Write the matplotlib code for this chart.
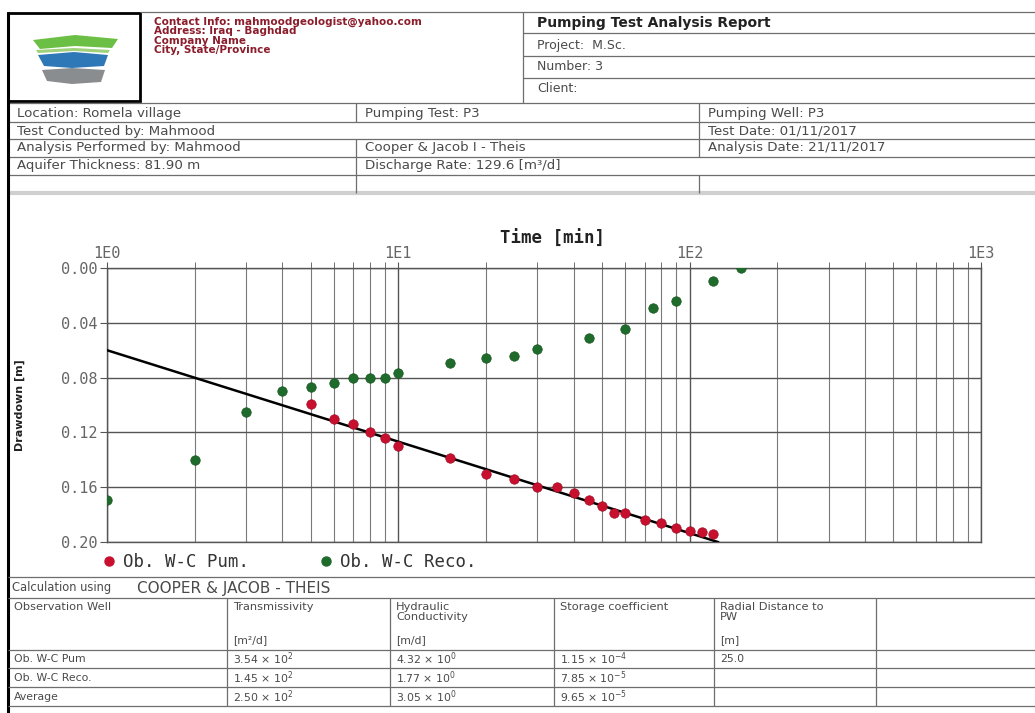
import matplotlib
matplotlib.use("Agg")
import matplotlib.pyplot as plt
from matplotlib.lines import Line2D
from matplotlib.patches import Polygon, Rectangle
from matplotlib.ticker import FixedLocator, LogLocator, NullFormatter, FixedFormatter

# ---------------- data ----------------
pum_time = [5, 6, 7, 8, 9, 10, 15, 20, 25, 30, 35, 40, 45, 50, 55, 60, 70, 80, 90, 100, 110, 120]
pum_drawdown = [0.099, 0.110, 0.114, 0.120, 0.124, 0.130, 0.139, 0.150, 0.154, 0.160, 0.160,
                0.164, 0.169, 0.174, 0.179, 0.179, 0.184, 0.186, 0.190, 0.192, 0.193, 0.194]

reco_time = [1, 2, 3, 4, 5, 6, 7, 8, 9, 10, 15, 20, 25, 30, 45, 60, 75, 90, 120, 150]
reco_drawdown = [0.169, 0.140, 0.105, 0.090, 0.087, 0.084, 0.080, 0.080, 0.080, 0.077,
                 0.069, 0.066, 0.064, 0.059, 0.051, 0.0445, 0.029, 0.024, 0.0095, 0.000]

fit_time = [1, 125]
fit_drawdown = [0.060, 0.200]

x_ticks = [1, 10, 100, 1000]
x_tick_labels = ["1E0", "1E1", "1E2", "1E3"]
y_ticks = [0.00, 0.04, 0.08, 0.12, 0.16, 0.20]
y_tick_labels = ["0.00", "0.04", "0.08", "0.12", "0.16", "0.20"]

series_labels = ["Ob. W-C Pum.", "Ob. W-C Reco."]

contact_lines = ["Contact Info: mahmoodgeologist@yahoo.com", "Address: Iraq - Baghdad",
                 "Company Name", "City, State/Province"]
report_lines = ["Project:  M.Sc.", "Number: 3", "Client:"]

info_rows = [
    ["Location: Romela village", "Pumping Test: P3", "Pumping Well: P3"],
    ["Test Conducted by: Mahmood", "", "Test Date: 01/11/2017"],
    ["Analysis Performed by: Mahmood", "Cooper & Jacob I - Theis", "Analysis Date: 21/11/2017"],
    ["Aquifer Thickness: 81.90 m", "Discharge Rate: 129.6 [m\u00b3/d]", ""],
    ["", "", ""],
]

res_headers = ["Observation Well", "Transmissivity", "Hydraulic\nConductivity",
               "Storage coefficient", "Radial Distance to\nPW", ""]
res_units = ["", "[m\u00b2/d]", "[m/d]", "", "[m]", ""]
res_rows = [
    ["Ob. W-C Pum", r"3.54 $\times$ 10$^{2}$", r"4.32 $\times$ 10$^{0}$", r"1.15 $\times$ 10$^{-4}$", "25.0", ""],
    ["Ob. W-C Reco.", r"1.45 $\times$ 10$^{2}$", r"1.77 $\times$ 10$^{0}$", r"7.85 $\times$ 10$^{-5}$", "", ""],
    ["Average", r"2.50 $\times$ 10$^{2}$", r"3.05 $\times$ 10$^{0}$", r"9.65 $\times$ 10$^{-5}$", "", ""],
]

# ---------------- page ----------------
W, H = 1035, 713
fig = plt.figure(figsize=(W / 100, H / 100), dpi=100)
fig.patch.set_facecolor("white")
bg = fig.add_axes([0, 0, 1, 1])
bg.set_xlim(0, W)
bg.set_ylim(H, 0)
bg.axis("off")

TXT = "#4a4a4a"
LINE = "#6e6e6e"
SANS = "DejaVu Sans"
MONO = "DejaVu Sans Mono"

def hline(y, x0=8, x1=W, color=LINE, lw=0.9):
    bg.plot([x0, x1], [y, y], color=color, lw=lw, solid_capstyle="butt")

def vline(x, y0, y1, color=LINE, lw=0.9):
    bg.plot([x, x], [y0, y1], color=color, lw=lw, solid_capstyle="butt")

# header
hline(12, 140, W)
vline(523, 12, 103)
for y in (33, 56, 78):
    hline(y, 523, W)
bg.add_patch(Rectangle((8, 12.5), 132, 88, fill=False, ec="black", lw=2.0))
hline(103, 8, W)

# logo
bg.add_patch(Polygon([[33, 40], [75, 35], [118, 39], [112, 48], [75, 46], [40, 49]],
                     closed=True, fc="#6cbf45", ec="none"))
bg.add_patch(Polygon([[38, 55], [74, 52], [108, 55], [104, 66], [72, 68], [44, 66]],
                     closed=True, fc="#2f78b8", ec="none"))
bg.add_patch(Polygon([[42, 70], [72, 68], [105, 70], [101, 82], [72, 84], [47, 81]],
                     closed=True, fc="#8a8d90", ec="none"))
bg.add_patch(Polygon([[36, 50], [74, 48], [110, 50], [108, 53], [74, 51], [38, 53]],
                     closed=True, fc="#9fd07a", ec="none"))

for i, t in enumerate(contact_lines):
    bg.text(154, 21.5 + 9.5 * i, t, color="#8b1d2c", fontsize=7.5, fontweight="bold",
            family=SANS, va="center", ha="left")

bg.text(537, 23, "Pumping Test Analysis Report", color="#222222", fontsize=10,
        fontweight="bold", family=SANS, va="center")
for i, t in enumerate(report_lines):
    bg.text(537, 45 + 22 * i, t, color=TXT, fontsize=9, family=SANS, va="center")

# info table
row_edges = [103, 122, 139, 157, 175, 193]
for y in row_edges[1:-1]:
    hline(y)
hline(193, 8, W, color="#cfcfcf", lw=3)
row_centers = [113, 131, 148, 166, 184]
col_x = [17, 365, 708]
div1_rows = [0, 2, 3, 4]
div2_rows = [0, 1, 2, 4]
for r in range(5):
    y0, y1 = row_edges[r], row_edges[r + 1]
    if r in div1_rows:
        vline(356, y0, y1)
    if r in div2_rows:
        vline(699, y0, y1)
    for c in range(3):
        if info_rows[r][c]:
            bg.text(col_x[c], row_centers[r], info_rows[r][c], color=TXT, fontsize=9.6,
                    family=SANS, va="center")

# left border
vline(8, 12, H, color="black", lw=2.2)

# results table
hline(577)
bg.text(12, 588, "Calculation using", color=TXT, fontsize=8.3, family=SANS, va="center")
bg.text(137, 589, "COOPER & JACOB - THEIS", color=TXT, fontsize=11, family=SANS, va="center")
hline(598)
for y in (650, 668, 687, 706):
    hline(y)
tcols = [8, 227, 390, 554, 714, 876]
for x in tcols[1:]:
    vline(x, 598, 706)
for c, t in enumerate(res_headers):
    if t:
        bg.text(tcols[c] + 6, 602, t, color=TXT, fontsize=8.2, family=SANS, va="top",
                linespacing=0.95)
    if res_units[c]:
        bg.text(tcols[c] + 6, 640, res_units[c], color=TXT, fontsize=7.8, family=SANS,
                va="center")
for r, row in enumerate(res_rows):
    yc = [659, 678, 697][r]
    for c, t in enumerate(row):
        if t:
            bg.text(tcols[c] + 6, yc, t, color=TXT, fontsize=7.8, family=SANS, va="center")

# ---------------- chart ----------------
L, R, T, B = 107, 981, 268, 542
ax = fig.add_axes([L / W, (H - B) / H, (R - L) / W, (B - T) / H])
ax.set_facecolor("none")
ax.set_xscale("log")
ax.set_xlim(1, 1000)
ax.set_ylim(0.20, 0.00)

ax.xaxis.tick_top()
ax.xaxis.set_major_locator(FixedLocator(x_ticks))
ax.xaxis.set_major_formatter(FixedFormatter(x_tick_labels))
ax.xaxis.set_minor_locator(LogLocator(base=10, subs=range(2, 10)))
ax.xaxis.set_minor_formatter(NullFormatter())
ax.set_yticks(y_ticks)
ax.set_yticklabels(y_tick_labels)

ax.tick_params(axis="x", which="both", direction="out", length=4, color="#555555",
               labelsize=11, labelcolor="#666666", pad=1)
ax.tick_params(axis="y", which="major", direction="out", length=5, color="#555555",
               labelsize=11, labelcolor="#666666", pad=2)
for lab in ax.get_xticklabels() + ax.get_yticklabels():
    lab.set_family(MONO)

ax.grid(True, which="major", axis="both", color="#555555", lw=1.0)
ax.grid(True, which="minor", axis="x", color="#7a7a7a", lw=0.8)
ax.set_axisbelow(True)
for s in ax.spines.values():
    s.set_color("#555555")
    s.set_linewidth(1.0)

ax.plot(fit_time, fit_drawdown, color="black", lw=1.8, zorder=3)
ax.plot(pum_time, pum_drawdown, "o", color="#c8102e", ms=6.8, mec="#a00d25", mew=0.5,
        zorder=4, label=series_labels[0])
ax.plot(reco_time, reco_drawdown, "o", color="#1f6b2c", ms=6.8, mec="#17561f", mew=0.5,
        zorder=4, label=series_labels[1])

handles = [Line2D([], [], marker="o", ls="none", color="#c8102e", ms=6.5),
           Line2D([], [], marker="o", ls="none", color="#1f6b2c", ms=6.5)]
leg = ax.legend(handles, series_labels, loc="center left", bbox_to_anchor=(101, 562),
                bbox_transform=bg.transData, ncol=2, frameon=False,
                prop={"family": MONO, "size": 12.5}, handlelength=0.9, handletextpad=0.35,
                columnspacing=4.0, borderpad=0, borderaxespad=0)
for t in leg.get_texts():
    t.set_color("#333333")

bg.text(552, 239, "Time [min]", family=MONO, fontweight="bold", fontsize=12.5,
        color="#222222", ha="center", va="center")
bg.text(20, 405, "Drawdown [m]", family=SANS, fontweight="bold", fontsize=8,
        color="#222222", ha="center", va="center", rotation=90)

fig.savefig("out.png", dpi=100, facecolor="white")
